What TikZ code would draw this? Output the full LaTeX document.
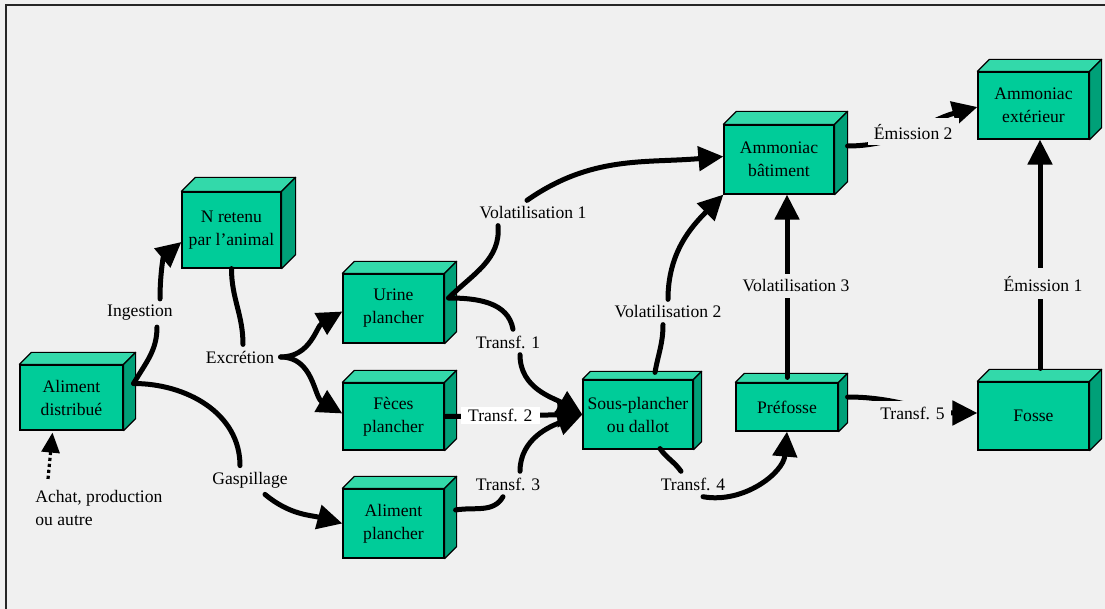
\documentclass[tikz,border=0pt]{standalone}
\usepackage{fontspec}
\setmainfont{Liberation Serif}
\usetikzlibrary{arrows.meta}

\definecolor{fond}{RGB}{240,240,240}
\definecolor{vertface}{RGB}{0,204,153}
\definecolor{verthaut}{RGB}{51,217,170}
\definecolor{vertcote}{RGB}{0,160,120}

\tikzset{
  bloc/.style={draw, fill=vertface, line width=0.6pt, align=center, inner sep=0pt},
  face/.style={draw, line width=0.6pt, line join=round},
  etiq/.style={inner sep=3pt},
  trait/.style={draw, line width=2.5pt, line cap=round},
  fleche/.style={trait, -{Triangle[length=12.5pt,width=12pt]}},
  pointille/.style={draw, line width=1.6pt, dash pattern=on 1.6pt off 1.4pt, -{Triangle[length=10pt,width=9pt]}},
}

\begin{document}
\begin{tikzpicture}[x=0.5pt, y=-0.5pt, font=\fontsize{8.8}{11.5}\selectfont]
\fill[fond] (0,0) rectangle (1105,609);
\useasboundingbox (0,0) rectangle (1105,609);
\draw[line width=1pt, black!85] (6,609) -- (6,5) -- (1105,5);

% blocs
\node[bloc, minimum width=51.5pt, minimum height=32.5pt] (ad) at (71.5,397.5) {Aliment\\distribué};
\node[bloc, minimum width=49.5pt, minimum height=38pt] (nr) at (231.5,230) {N retenu\\par l'animal};
\node[bloc, minimum width=50.5pt, minimum height=34.5pt] (up) at (393.5,308.5) {Urine\\plancher};
\node[bloc, minimum width=50.5pt, minimum height=33.5pt] (fp) at (393.5,416.5) {Fèces\\plancher};
\node[bloc, minimum width=50.5pt, minimum height=34.5pt] (ap) at (393.5,523.5) {Aliment\\plancher};
\node[bloc, minimum width=55pt, minimum height=34.5pt] (sp) at (638,414.5) {Sous-plancher\\ou dallot};
\node[bloc, minimum width=51pt, minimum height=24pt] (pf) at (787,407) {Préfosse};
\node[bloc, minimum width=55pt, minimum height=34.5pt] (ab) at (779,159.5) {Ammoniac\\bâtiment};
\node[bloc, minimum width=55.5pt, minimum height=33.5pt] (ae) at (1033.5,105.5) {Ammoniac\\extérieur};
\node[bloc, minimum width=55.5pt, minimum height=34pt] (fo) at (1033.5,416) {Fosse};

% faces du dessus et de cote
\foreach \n/\d in {ad/12,nr/14,up/12,fp/12,ap/12,sp/8,pf/9,ab/13,ae/12,fo/12}{
  \draw[face, fill=verthaut] (\n.north west) -- ++(\d,-\d) -- ([shift={(\d,-\d)}]\n.north east) -- (\n.north east) -- cycle;
  \draw[face, fill=vertcote] (\n.north east) -- ([shift={(\d,-\d)}]\n.north east) -- ([shift={(\d,-\d)}]\n.south east) -- (\n.south east) -- cycle;
}

% etiquettes
\node[etiq] (ing) at (140,313) {Ingestion};
\node[etiq] (exc) at (240,357) {Excrétion};
\node[etiq] (gas) at (250,480) {Gaspillage};
\node[etiq] (vo1) at (533,213) {Volatilisation 1};
\node[etiq] (tr1) at (508,342) {Transf. 1};
\node[etiq] (tr3) at (508,484) {Transf. 3};
\node[etiq] (vo2) at (668,312) {Volatilisation 2};
\node[etiq] (tr4) at (693,484) {Transf. 4};
\node[align=left, anchor=west, inner sep=0pt] (achat) at (35,508) {Achat, production\\ou autre};

% flux
\draw[trait] ([shift={(10,-14)}]ad.east) to[out=60,in=-90] ([shift={(17,0)}]ing.south);
\draw[fleche] ([shift={(20,0)}]ing.north) to[out=90,in=220] ([shift={(0,12)}]nr.west);
\draw[trait] (nr.south) to[out=-90,in=90] ([shift={(3,0)}]exc.north);
\draw[fleche] (exc.east) to[out=0,in=210] ([shift={(0,3)}]up.west);
\draw[fleche] (exc.east) to[out=0,in=150] ([shift={(0,-3)}]fp.west);
\draw[trait] ([shift={(10,-14)}]ad.east) to[out=0,in=90] ([shift={(-10,0)}]gas.north);
\draw[fleche] ([shift={(15,0)}]gas.south) to[out=-40,in=165] (ap.west);

\draw[trait] ([shift={(4,-10.5)}]up.east) to[out=45,in=-85] ([shift={(-35,0)}]vo1.south);
\draw[fleche] ([shift={(-6,0)}]vo1.north) to[out=35,in=185] ([shift={(0,-3)}]ab.west);
\draw[trait] ([shift={(4,-10.5)}]up.east) to[out=0,in=100] ([shift={(5,0)}]tr1.north);
\draw[fleche] ([shift={(12,0)}]tr1.south) to[out=-90,in=150] (sp.west);
\draw[fleche] ([shift={(1,0)}]fp.east) -- node[etiq, fill=white, pos=0.4, inner ysep=1pt, inner xsep=3.5pt] (tr2) {Transf. 2} (sp.west);
\draw[trait] ([shift={(11,-13.5)}]ap.east) to[out=10,in=-120] ([shift={(-5,0)}]tr3.south);
\draw[fleche] ([shift={(12,0)}]tr3.north) to[out=90,in=200] (sp.west);

\draw[trait] ([shift={(17,-7)}]sp.north) to[out=80,in=-90] ([shift={(-5,0)}]vo2.south);
\draw[fleche] (vo2.north) to[out=90,in=225] (ab.south west);
\draw[fleche] ([shift={(0,-5)}]pf.north) -- node[etiq, fill=fond, pos=0.5, xshift=4.5pt] (vo3) {Volatilisation 3} (pf.north |- ab.south);
\draw[trait] ([shift={(22,-1)}]sp.south) to[out=-55,in=125] ([shift={(-12,0)}]tr4.north);
\draw[fleche] ([shift={(10,0)}]tr4.south) to[out=-10,in=-95] (pf.south);
\draw[fleche] ([shift={(9,-10)}]pf.east) to[out=0,in=180] node[etiq, fill=fond, pos=0.5, yshift=-4pt] (tr5) {Transf. 5} ([shift={(0,-3)}]fo.west);

\draw[fleche] ([shift={(6.5,-13)}]fo.north) -- node[etiq, fill=fond, inner sep=4pt, pos=0.37, xshift=1.5pt] (em1) {Émission 1} ([shift={(6.5,0)}]ae.south);
\draw[fleche] ([shift={(13,-13.5)}]ab.east) to[out=0,in=195] node[etiq, fill=fond, pos=0.5] (em2) {Émission 2} ([shift={(0,1.5)}]ae.west);

\draw[pointille] ([shift={(13,-11)}]achat.north west) -- ([shift={(-19,2)}]ad.south);
\end{tikzpicture}
\end{document}
